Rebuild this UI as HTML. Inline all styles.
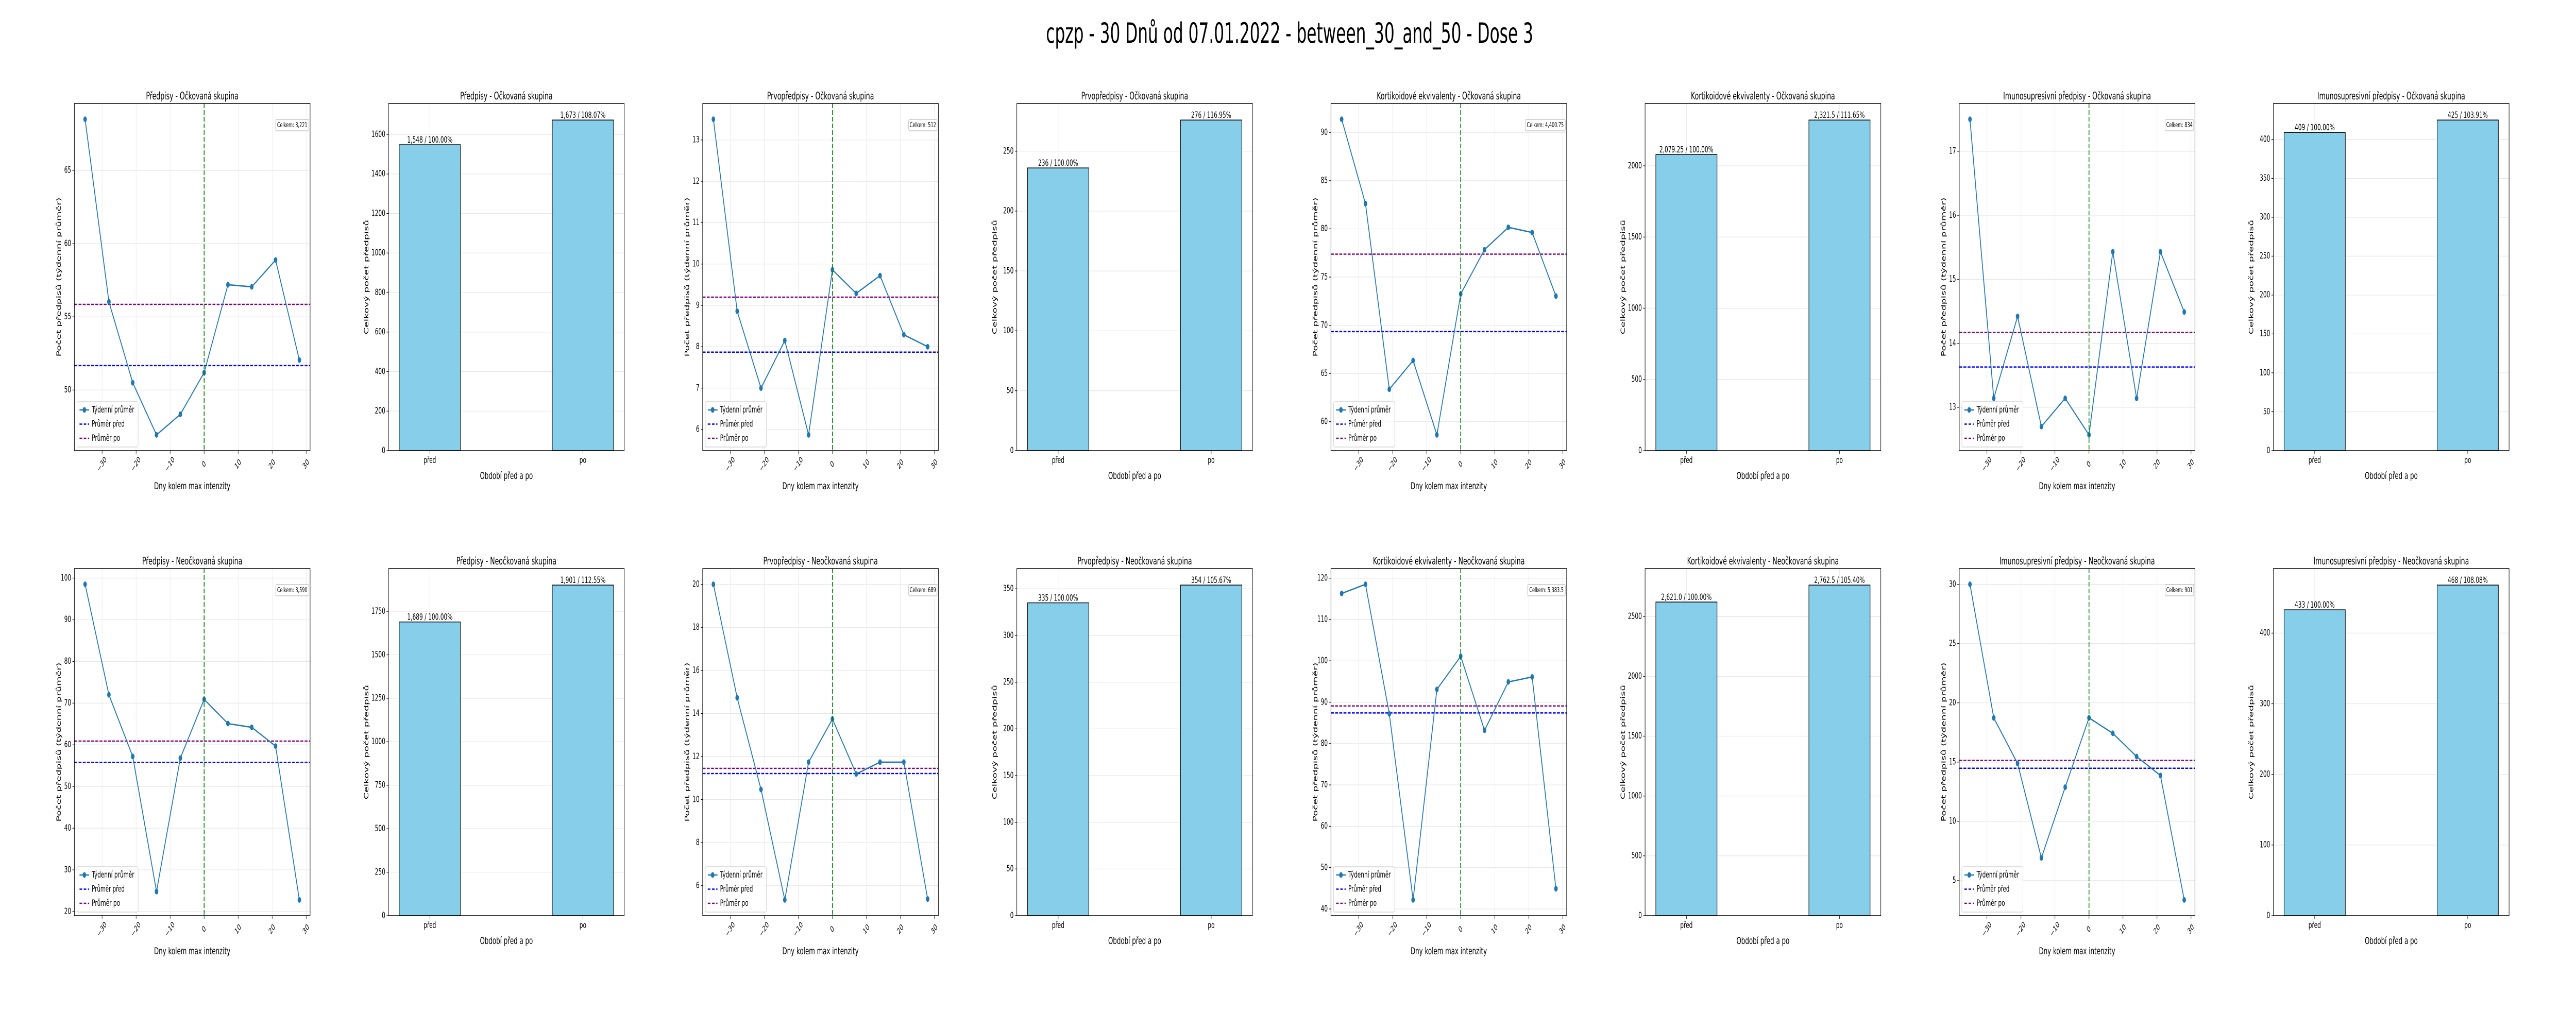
<!DOCTYPE html>
<html><head><meta charset="utf-8"><title>cpzp chart</title>
<style>
html,body{margin:0;padding:0;background:#fff;overflow:hidden;width:100%;height:100%;}
svg{display:block;width:100vw;height:100vh;font-family:"DejaVu Sans","Liberation Sans",sans-serif;}
</style></head>
<body>
<svg id="fig" viewBox="0 0 8000 2000" preserveAspectRatio="none" xmlns="http://www.w3.org/2000/svg">
<rect x="0" y="0" width="8000" height="2000" fill="#fff"/>
<text x="4005" y="83" text-anchor="middle" font-size="54" textLength="1513" lengthAdjust="spacingAndGlyphs">cpzp - 30 Dnů od 07.01.2022 - between_30_and_50 - Dose 3</text>
</svg>
<script>
// ---- data ----
const days = [-35,-28,-21,-14,-7,0,7,14,21,28];
const xTicks = [-30,-20,-10,0,10,20,30];
const barCategories = ["před","po"];

const predpisyVacc = [68.49,56.03,50.5,46.94,48.34,51.19,57.19,57.05,58.88,52.05];
const predpisyVaccMeans = [51.67,55.85];
const predpisyVaccTicks = [50,55,60,65];
const predpisyVaccBars = [1548,1673];
const predpisyVaccBarTicks = [0,200,400,600,800,1000,1200,1400,1600];

const prvoVacc = [13.5,8.86,7.0,8.15,5.87,9.86,9.29,9.72,8.29,8.0];
const prvoVaccMeans = [7.87,9.2];
const prvoVaccTicks = [6,7,8,9,10,11,12,13];
const prvoVaccBars = [236,276];
const prvoVaccBarTicks = [0,50,100,150,200,250];

const kortVacc = [91.37,82.62,63.36,66.34,58.63,73.25,77.84,80.16,79.62,73.03];
const kortVaccMeans = [69.34,77.38];
const kortVaccTicks = [60,65,70,75,80,85,90];
const kortVaccBars = [2079.25,2321.5];
const kortVaccBarTicks = [0,500,1000,1500,2000];

const imunoVacc = [17.5,13.14,14.42,12.70,13.14,12.57,15.43,13.14,15.43,14.49];
const imunoVaccMeans = [13.63,14.17];
const imunoVaccTicks = [13,14,15,16,17];
const imunoVaccBars = [409,425];
const imunoVaccBarTicks = [0,50,100,150,200,250,300,350,400];

const predpisyUnvacc = [98.5,72.0,57.2,24.8,56.8,70.9,65.1,64.2,59.7,22.8];
const predpisyUnvaccMeans = [55.8,60.9];
const predpisyUnvaccTicks = [20,30,40,50,60,70,80,90,100];
const predpisyUnvaccBars = [1689,1901];
const predpisyUnvaccBarTicks = [0,250,500,750,1000,1250,1500,1750];

const prvoUnvacc = [20.0,14.73,10.47,5.34,11.74,13.74,11.19,11.74,11.74,5.38];
const prvoUnvaccMeans = [11.21,11.45];
const prvoUnvaccTicks = [6,8,10,12,14,16,18,20];
const prvoUnvaccBars = [335,354];
const prvoUnvaccBarTicks = [0,50,100,150,200,250,300,350];

const kortUnvacc = [116.3,118.5,87.2,42.2,93.1,101.1,83.2,94.9,96.1,44.9];
const kortUnvaccMeans = [87.4,89.1];
const kortUnvaccTicks = [40,50,60,70,80,90,100,110,120];
const kortUnvaccBars = [2621.0,2762.5];
const kortUnvaccBarTicks = [0,500,1000,1500,2000,2500];

const imunoUnvacc = [30.0,18.73,14.88,6.91,12.88,18.73,17.43,15.47,13.87,3.37];
const imunoUnvaccMeans = [14.48,15.14];
const imunoUnvaccTicks = [5,10,15,20,25,30];
const imunoUnvaccBars = [433,468];
const imunoUnvaccBarTicks = [0,100,200,300,400];

const panels = [
 {name:"Předpisy", grp:"Očkovaná skupina", col:0,row:0, vals:predpisyVacc, means:predpisyVaccMeans, ticks:predpisyVaccTicks, bars:predpisyVaccBars, bticks:predpisyVaccBarTicks, fl:false},
 {name:"Prvopředpisy", grp:"Očkovaná skupina", col:2,row:0, vals:prvoVacc, means:prvoVaccMeans, ticks:prvoVaccTicks, bars:prvoVaccBars, bticks:prvoVaccBarTicks, fl:false},
 {name:"Kortikoidové ekvivalenty", grp:"Očkovaná skupina", col:4,row:0, vals:kortVacc, means:kortVaccMeans, ticks:kortVaccTicks, bars:kortVaccBars, bticks:kortVaccBarTicks, fl:true},
 {name:"Imunosupresivní předpisy", grp:"Očkovaná skupina", col:6,row:0, vals:imunoVacc, means:imunoVaccMeans, ticks:imunoVaccTicks, bars:imunoVaccBars, bticks:imunoVaccBarTicks, fl:false},
 {name:"Předpisy", grp:"Neočkovaná skupina", col:0,row:1, vals:predpisyUnvacc, means:predpisyUnvaccMeans, ticks:predpisyUnvaccTicks, bars:predpisyUnvaccBars, bticks:predpisyUnvaccBarTicks, fl:false},
 {name:"Prvopředpisy", grp:"Neočkovaná skupina", col:2,row:1, vals:prvoUnvacc, means:prvoUnvaccMeans, ticks:prvoUnvaccTicks, bars:prvoUnvaccBars, bticks:prvoUnvaccBarTicks, fl:false},
 {name:"Kortikoidové ekvivalenty", grp:"Neočkovaná skupina", col:4,row:1, vals:kortUnvacc, means:kortUnvaccMeans, ticks:kortUnvaccTicks, bars:kortUnvaccBars, bticks:kortUnvaccBarTicks, fl:true},
 {name:"Imunosupresivní předpisy", grp:"Neočkovaná skupina", col:6,row:1, vals:imunoUnvacc, means:imunoUnvaccMeans, ticks:imunoUnvaccTicks, bars:imunoUnvaccBars, bticks:imunoUnvaccBarTicks, fl:false}
];

// ---- rendering ----
const NS = "http://www.w3.org/2000/svg";
const svg = document.getElementById("fig");
const W = 732, H = 674;
function mk(parent, tag, attrs, txt){
  const e = document.createElementNS(NS, tag);
  for (const k in attrs) e.setAttribute(k, attrs[k]);
  if (txt !== undefined) e.textContent = txt;
  parent.appendChild(e);
  return e;
}
function fmtNum(v, fl){
  let s;
  if (fl) { s = (Math.round(v)===v) ? v.toFixed(1) : String(v); }
  else s = String(Math.round(v));
  const parts = s.split(".");
  parts[0] = parts[0].replace(/\B(?=(\d{3})+(?!\d))/g, ",");
  return parts.join(".");
}
function fmtTick(t){ return t<0 ? "\u2212"+Math.abs(t) : String(t); }
const FS = 17;

panels.forEach(p => {
  const top = p.row ? 1104 : 201;
  const bottom = top + H;
  const title = p.name + " - " + p.grp;
  // ===== line chart =====
  const L = 231 + 975.6*p.col, R = L + W;
  const g = mk(svg, "g", {});
  
  
  const dmin = Math.min(...days), dmax = Math.max(...days), dsp = dmax-dmin;
  const x0 = dmin - 0.05*dsp, x1 = dmax + 0.05*dsp;
  const vmin = Math.min(...p.vals), vmax = Math.max(...p.vals), vsp = vmax - vmin;
  const y0 = vmin - 0.05*vsp, y1 = vmax + 0.05*vsp;
  const xs = d => L + (d - x0)/(x1 - x0)*W;
  const ys = v => bottom - (v - y0)/(y1 - y0)*H;
  xTicks.forEach(t => {
    const gl = mk(g, "line", {x1:xs(t), x2:xs(t), y1:top, y2:bottom, stroke:"#e6e6e6", "stroke-width":1.2});
    
    
    const tk = mk(g, "line", {x1:xs(t), x2:xs(t), y1:bottom, y2:bottom+6, stroke:"#000", "stroke-width":1.2});
    
    
    const tl = mk(g, "text", {x:xs(t), y:bottom+27, "font-size":16, "text-anchor":"middle", "dominant-baseline":"central", transform:`rotate(-45 ${xs(t)} ${bottom+27})`}, fmtTick(t));
    
    
  });
  p.ticks.forEach(t => {
    const gl = mk(g, "line", {x1:L, x2:R, y1:ys(t), y2:ys(t), stroke:"#e6e6e6", "stroke-width":1.2});
    
    
    const tk = mk(g, "line", {x1:L-6, x2:L, y1:ys(t), y2:ys(t), stroke:"#000", "stroke-width":1.2});
    
    
    const tl = mk(g, "text", {x:L-10, y:ys(t), "font-size":FS, "text-anchor":"end", "dominant-baseline":"central"}, String(t));
    
    
  });
  const hp = mk(g, "line", {x1:L, x2:R, y1:ys(p.means[0]), y2:ys(p.means[0]), stroke:"#0000ff", "stroke-width":2.5, "stroke-dasharray":"9,4"});
  
  
  const ha = mk(g, "line", {x1:L, x2:R, y1:ys(p.means[1]), y2:ys(p.means[1]), stroke:"#800080", "stroke-width":2.5, "stroke-dasharray":"9,4"});
  
  
  const pts = days.map((d,i) => xs(d).toFixed(1)+","+ys(p.vals[i]).toFixed(1)).join(" ");
  const pl = mk(g, "polyline", {points:pts, fill:"none", stroke:"#1f77b4", "stroke-width":2.6});
  
  
  days.forEach((d,i) => {
    const c = mk(g, "circle", {cx:xs(d), cy:ys(p.vals[i]), r:5.5, fill:"#1f77b4"});
    
    
  });
  const vl = mk(g, "line", {x1:xs(0), x2:xs(0), y1:top, y2:bottom, stroke:"#008000", "stroke-width":2.5, "stroke-dasharray":"9,4"});
  
  
  const fr = mk(g, "rect", {x:L, y:top, width:W, height:H, fill:"none", stroke:"#000", "stroke-width":1.5});
  
  
  const lg = mk(g, "g", {});
  
  
  const lb = mk(lg, "rect", {x:L+8, y:bottom-95, width:190, height:88, rx:4, fill:"#fff", "fill-opacity":0.8, stroke:"#ccc", "stroke-width":1.2});
  
  
  const entries = [["Týdenní průměr","#1f77b4",""],["Průměr před","#0000ff","8,5"],["Průměr po","#800080","8,5"]];
  entries.forEach((e,i) => {
    const yy = bottom - 79 + i*27.5;
    const ln = mk(lg, "line", {x1:L+16, x2:L+46, y1:yy, y2:yy, stroke:e[1], "stroke-width":2.6, "stroke-dasharray":e[2]||"none"});
    
    
    if (i===0) {
      const mc = mk(lg, "circle", {cx:L+31, cy:yy, r:5.5, fill:e[1]});
      
      
    }
    const lt = mk(lg, "text", {x:L+54, y:yy, "font-size":FS, "dominant-baseline":"central", textLength: i===0?132:(i===1?102:88), lengthAdjust:"spacingAndGlyphs"}, e[0]);
    
    
  });
  const total = p.bars[0] + p.bars[1];
  const ttxt = "Celkem: " + fmtNum(total, p.fl && Math.round(total)!==total);
  const tw = ttxt.length*7.3 + 8;
  const tb = mk(g, "rect", {x:R-4-tw, y:top+31, width:tw, height:22, rx:3, fill:"#fff", stroke:"#bbb", "stroke-width":1.2});
  
  
  const tt = mk(g, "text", {x:R-4-tw/2, y:top+42, "font-size":13, "text-anchor":"middle", "dominant-baseline":"central"}, ttxt);
  
  
  const ti = mk(g, "text", {x:L+W/2, y:top-8, "font-size":20, "text-anchor":"middle"}, title);
  
  
  const xl = mk(g, "text", {x:L+W/2, y:bottom+75, "font-size":19, "text-anchor":"middle"}, "Dny kolem max intenzity");
  
  
  const yl = mk(g, "text", {x:L-49, y:top+H/2, "font-size":19, "text-anchor":"middle", "dominant-baseline":"central", transform:`rotate(-90 ${L-49} ${top+H/2})`}, "Počet předpisů (týdenní průměr)");
  
  

  // ===== bar chart =====
  const BL = 231 + 975.6*(p.col+1), BR = BL + W;
  const bg = mk(svg, "g", {});
  
  
  const bx0 = -0.2 - 0.07, bx1 = 1.2 + 0.07;
  const bmax = Math.max(...p.bars)*1.05;
  const bxs = v => BL + (v - bx0)/(bx1 - bx0)*W;
  const bys = v => bottom - v/bmax*H;
  barCategories.forEach((c,i) => {
    const gl = mk(bg, "line", {x1:bxs(i), x2:bxs(i), y1:top, y2:bottom, stroke:"#e6e6e6", "stroke-width":1.2});
    
    
  });
  p.bticks.forEach(t => {
    const gl = mk(bg, "line", {x1:BL, x2:BR, y1:bys(t), y2:bys(t), stroke:"#e6e6e6", "stroke-width":1.2});
    
    
    const tk = mk(bg, "line", {x1:BL-6, x2:BL, y1:bys(t), y2:bys(t), stroke:"#000", "stroke-width":1.2});
    
    
    const tl = mk(bg, "text", {x:BL-10, y:bys(t), "font-size":FS, "text-anchor":"end", "dominant-baseline":"central"}, String(t));
    
    
  });
  barCategories.forEach((c,i) => {
    const v = p.bars[i];
    const r = mk(bg, "rect", {x:bxs(i-0.2), y:bys(v), width:bxs(i+0.2)-bxs(i-0.2), height:bottom-bys(v), fill:"#87ceeb", stroke:"#000", "stroke-width":1.5});
    
    
    const lab = fmtNum(v, p.fl) + " / " + (v/p.bars[0]*100).toFixed(2) + "%";
    const bt = mk(bg, "text", {x:bxs(i), y:bys(v)-4, "font-size":FS, "text-anchor":"middle"}, lab);
    
    
    const tk = mk(bg, "line", {x1:bxs(i), x2:bxs(i), y1:bottom, y2:bottom+6, stroke:"#000", "stroke-width":1.2});
    
    
    const tl = mk(bg, "text", {x:bxs(i), y:bottom+24, "font-size":FS, "text-anchor":"middle"}, c);
    
    
  });
  const bfr = mk(bg, "rect", {x:BL, y:top, width:W, height:H, fill:"none", stroke:"#000", "stroke-width":1.5});
  
  
  const bti = mk(bg, "text", {x:BL+W/2, y:top-8, "font-size":20, "text-anchor":"middle"}, title);
  
  
  const bxl = mk(bg, "text", {x:BL+W/2, y:bottom+55, "font-size":19, "text-anchor":"middle"}, "Období před a po");
  
  
  const byl = mk(bg, "text", {x:BL-69, y:top+H/2, "font-size":19, "text-anchor":"middle", "dominant-baseline":"central", transform:`rotate(-90 ${BL-69} ${top+H/2})`}, "Celkový počet předpisů");
  
  
});
</script>
</body></html>
